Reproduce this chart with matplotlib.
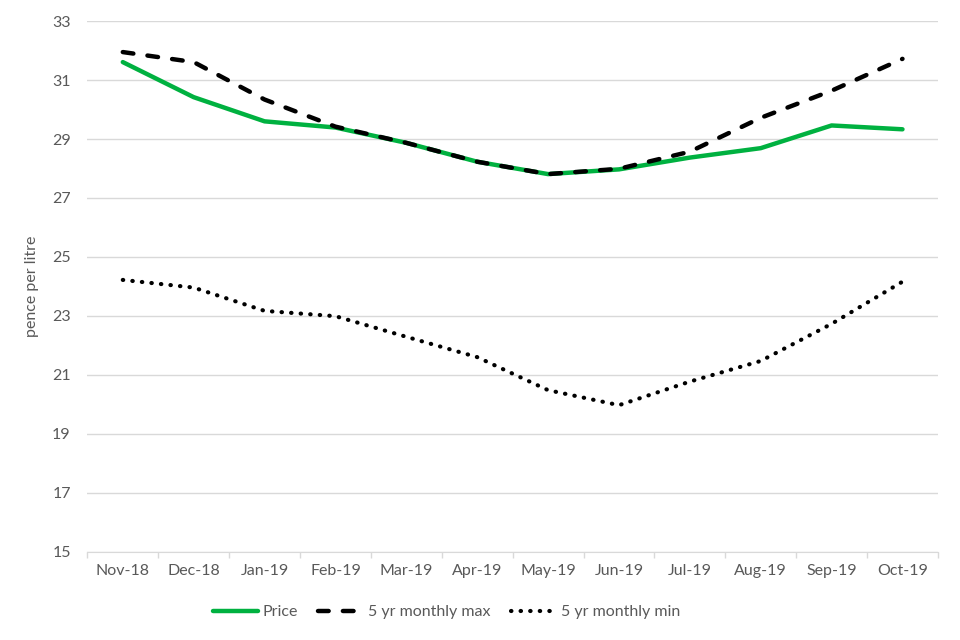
import matplotlib.pyplot as plt
import numpy as np

# monthly prices, pence per litre
months = ["Nov-18", "Dec-18", "Jan-19", "Feb-19", "Mar-19", "Apr-19",
          "May-19", "Jun-19", "Jul-19", "Aug-19", "Sep-19", "Oct-19"]
price = [31.61, 30.42, 29.60, 29.39, 28.87, 28.23, 27.81, 27.97, 28.37, 28.69, 29.46, 29.33]
max_5yr = [31.95, 31.61, 30.34, 29.42, 28.87, 28.23, 27.81, 27.99, 28.57, 29.72, 30.64, 31.72]
min_5yr = [24.22, 23.96, 23.17, 22.99, 22.29, 21.60, 20.48, 19.97, 20.77, 21.47, 22.73, 24.16]

plt.rcParams['font.family'] = ['Lato', 'DejaVu Sans']
txt = "#595959"
grid = "#d9d9d9"

fig = plt.figure(figsize=(9.6, 6.4), dpi=100)
ax = fig.add_axes([0.091, 0.138, 0.886, 0.829])

x = np.arange(len(months))
ax.plot(x, price, color="#00b140", lw=3.2, label="Price", solid_capstyle="round", zorder=3)
ax.plot(x, max_5yr, color="black", lw=3.2, ls=(0, (2.4, 3.2)), label="5 yr monthly max",
        dash_capstyle="round", zorder=4)
ax.plot(x, min_5yr, color="black", lw=3.0, ls=(0, (0.1, 2.2)), label="5 yr monthly min",
        dash_capstyle="round", zorder=4)

ax.set_xlim(-0.5, len(months) - 0.5)
ax.set_ylim(15, 33)
ax.set_yticks(range(15, 34, 2))
ax.set_xticks(x)
ax.set_xticklabels(months)
ax.set_xticks(np.arange(-0.5, len(months)), minor=True)
ax.tick_params(axis="x", which="major", length=0, pad=9, labelsize=11.5, labelcolor=txt)
ax.tick_params(axis="x", which="minor", length=4, color=grid, width=1)
ax.tick_params(axis="y", length=0, pad=12, labelsize=11.5, labelcolor=txt)

ax.grid(axis="y", color=grid, lw=1)
ax.set_axisbelow(True)
for s in ["top", "right", "left"]:
    ax.spines[s].set_visible(False)
ax.spines["bottom"].set_color(grid)
ax.spines["bottom"].set_zorder(1)

ax.set_ylabel("pence per litre", color=txt, fontsize=11.5, labelpad=9)

ax.legend(loc="center", bbox_to_anchor=(0.465, 1 - 612 / 640), bbox_transform=fig.transFigure,
          ncol=3, frameon=False, fontsize=11.5, labelcolor=txt,
          handlelength=2.8, handletextpad=0.3, columnspacing=1.3)

plt.savefig("out.png", dpi=100)
